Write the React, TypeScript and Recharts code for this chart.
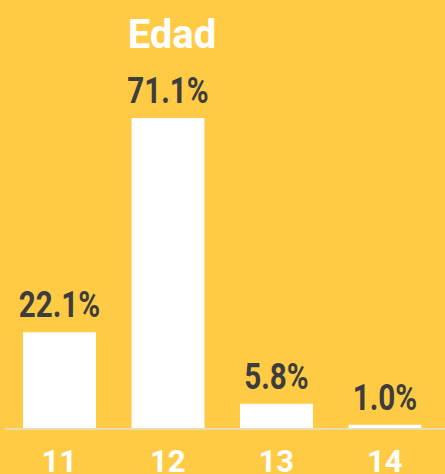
import { BarChart, Bar, XAxis, YAxis, LabelList } from "recharts"

const ages = ["11", "12", "13", "14"]
const shares = [22.1, 71.1, 5.8, 1.0]

const BG = "#FFCB45"

// Roboto bold squeezed sideways to look like the condensed face in the original
function PctLabel(props: any) {
  const { x, y, width, value } = props
  const cx = Number(x) + Number(width) / 2
  const by = Number(y) - 15
  return (
    <text
      transform={`translate(${cx},${by}) scale(0.8,1)`}
      textAnchor="middle"
      fill="#3D3D3D"
      fontFamily="Roboto"
      fontWeight={700}
      fontSize={37}
    >
      {`${Number(value).toFixed(1)}%`}
    </text>
  )
}

export default function App() {
  const data = ages.map((age, i) => ({ age, value: shares[i] }))

  return (
    <div style={{ position: "absolute", left: 0, top: 0, width: 445, height: 474, background: BG, overflow: "hidden" }}>
      <BarChart width={445} height={474} data={data} margin={{ top: 79, right: 0, bottom: 0, left: 5 }}>
        <YAxis hide domain={[0, 80]} />
        <XAxis
          dataKey="age"
          height={45}
          padding={{ left: 0, right: 6 }}
          tickLine={false}
          tickSize={0}
          tickMargin={21}
          axisLine={{ stroke: "#E8DCB5", strokeWidth: 2 }}
          tick={{ fill: "#FFFFFF", fontFamily: "Roboto", fontWeight: 700, fontSize: 31 }}
        />
        <Bar dataKey="value" fill="#FFFFFF" barSize={73} isAnimationActive={false}>
          <LabelList dataKey="value" content={PctLabel} />
        </Bar>
      </BarChart>
      <svg width={445} height={474} style={{ position: "absolute", left: 0, top: 0, pointerEvents: "none" }}>
        <text x={172} y={48} textAnchor="middle" fill="#FFFFFF" fontFamily="Roboto" fontWeight={700} fontSize={40}>
          Edad
        </text>
      </svg>
    </div>
  )
}
